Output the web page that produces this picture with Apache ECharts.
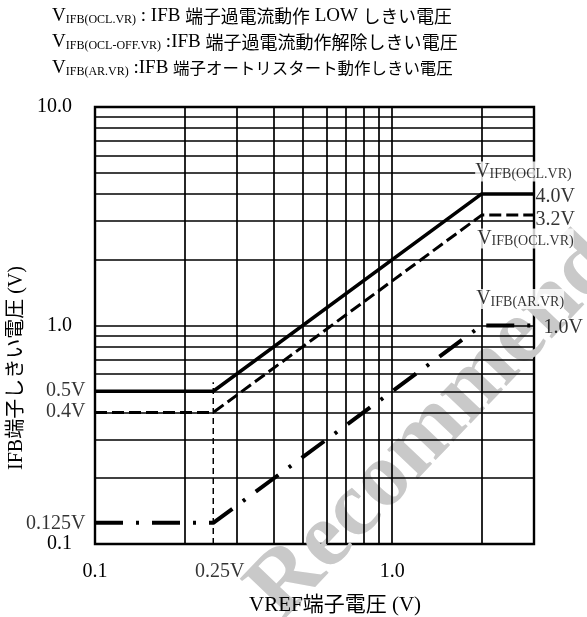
<!DOCTYPE html>
<html>
<head>
<meta charset="utf-8">
<script src="https://cdn.jsdelivr.net/npm/echarts@6/dist/echarts.min.js"></script>
<style>
  html, body { margin: 0; padding: 0; background: #fff; }
  #chart { width: 587px; height: 617px; }
</style>
</head>
<body>
<div id="chart"></div>
<script>
// VREF pin voltage at the segment knots (V)
const vrefKnots = [0.1, 0.25, 2.0, 3.0];
// IFB threshold voltages at those knots (V)
const oclLow = [0.5, 0.5, 4.0, 4.0];          // V_IFB(OCL.VR)
const oclOff = [0.4, 0.4, 3.2, 3.2];          // V_IFB(OCL-OFF.VR)
const autoRestart = [0.125, 0.125, 1.0, 1.0]; // V_IFB(AR.VR)

// Log grid lines
const xGridLines = [0.2, 0.3, 0.4, 0.5, 0.6, 0.7, 0.8, 0.9, 1.0, 2.0];
const yGridLines = [0.2, 0.3, 0.4, 0.5, 0.6, 0.7, 0.8, 0.9, 1.0, 2, 3, 4, 5, 6, 7, 8, 9];

// Tick labels
const xTickLabels = { '0.1': '0.1', '1': '1.0' };
const yTickLabels = { '0.1': '0.1', '1': '1.0', '10': '10.0' };
const refVoltage = 0.25;
const refVoltageLabel = '0.25V';
const refGuideTop = 0.55;
const leftLevelLabels = ['0.5V', '0.4V', '0.125V'];
const rightLevelLabels = ['4.0V', '3.2V', '1.0V'];
const curveSubscripts = ['IFB(OCL.VR)', 'IFB(OCL.VR)', 'IFB(AR.VR)'];

const SERIF = "'Liberation Serif', serif";
const FONT = "'Liberation Serif', 'Noto Sans CJK JP', serif";
const JP = "'Noto Sans CJK JP', sans-serif";
const zip = (xs, ys) => xs.map((x, i) => [x, ys[i]]);
const pickLabel = (table) => (v) => {
  for (const k in table) {
    if (Math.abs(Math.log10(v) - Math.log10(+k)) < 1e-6) return table[k];
  }
  return '';
};

// text measuring helper (used to fit the description lines to a set width)
const measureCtx = document.createElement('canvas').getContext('2d');
const textWidth = (txt, size, family) => {
  measureCtx.font = size + 'px ' + family;
  return measureCtx.measureText(txt).width;
};

const chart = echarts.init(document.getElementById('chart'), null, { renderer: 'canvas' });

const subRich = (big, small, subLH, jp) => ({
  v: { fontSize: big, lineHeight: big, fontFamily: SERIF, color: '#000' },
  s: { fontSize: small, lineHeight: subLH, verticalAlign: 'bottom', fontFamily: SERIF, color: '#000' },
  t: { fontSize: big, lineHeight: big, fontFamily: SERIF, color: '#000' },
  j: { fontSize: jp || big, lineHeight: big, fontFamily: JP, color: '#000' }
});

// labels riding on the curves / axis positions
const knot = 2; // index of the upper knee
const curveLevels = [oclLow[knot], oclOff[knot], autoRestart[knot]];
const curveNameOffsets = [[-6, -32], [-4, 14], [-5, -36]];
const rightOffsets = [[2, 3], [2, 5.5], [10, 2.5]];
const leftLevels = [oclLow[0], oclOff[0], autoRestart[0]];
const leftOffsets = [[-9, 0], [-9, 0], [-9, 1]];

const labelItems = [];
curveLevels.forEach((lv, i) => {
  labelItems.push({
    value: [vrefKnots[knot], lv],
    label: {
      show: true, position: curveNameOffsets[i], align: 'left', verticalAlign: 'top',
      formatter: '{v|V}{s|' + curveSubscripts[i] + '}',
      backgroundColor: '#fff',
      rich: subRich(20, 14, 10)
    }
  });
  labelItems.push({
    value: [vrefKnots[3], lv],
    label: {
      show: true, position: rightOffsets[i], align: 'left', verticalAlign: 'middle',
      formatter: rightLevelLabels[i], fontSize: 20, fontFamily: SERIF, color: '#000'
    }
  });
});
leftLevels.forEach((lv, i) => {
  labelItems.push({
    value: [vrefKnots[0], lv],
    label: {
      show: true, position: leftOffsets[i], align: 'right', verticalAlign: 'middle',
      formatter: leftLevelLabels[i], fontSize: 20, fontFamily: SERIF, color: '#000'
    }
  });
});
labelItems.push({
  value: [refVoltage, 0.1],
  label: {
    show: true, position: [7, 28], align: 'center', verticalAlign: 'middle',
    formatter: refVoltageLabel, fontSize: 20, fontFamily: SERIF, color: '#000'
  }
});

// Description lines above the plot: [subscript, runs of (latin | japanese) text]
const titleLines = [
  { sub: 'IFB(OCL.VR)', runs: [['t', ' : IFB '], ['j', '端子過電流動作'], ['t', ' LOW '], ['j', 'しきい電圧']], y: 16, right: 452 },
  { sub: 'IFB(OCL-OFF.VR)', runs: [['t', ' :IFB '], ['j', '端子過電流動作解除しきい電圧']], y: 42, right: 458 },
  { sub: 'IFB(AR.VR)', runs: [['t', ' :IFB '], ['j', '端子オートリスタート動作しきい電圧']], y: 68, right: 453 }
];
const TITLE_LEFT = 52, TITLE_BIG = 19, TITLE_SUB = 12;
const titleGraphics = titleLines.map(l => {
  let latin = textWidth('V', TITLE_BIG, SERIF) + textWidth(l.sub, TITLE_SUB, SERIF);
  let jp100 = 0;
  l.runs.forEach(([k, s]) => {
    if (k === 't') latin += textWidth(s, TITLE_BIG, SERIF);
    else jp100 += textWidth(s, 100, JP);
  });
  let jpSize = (l.right - TITLE_LEFT - latin) / (jp100 / 100);
  jpSize = Math.max(14, Math.min(20, jpSize));
  return {
    type: 'text', z: 20, silent: true,
    x: TITLE_LEFT, y: l.y,
    style: {
      text: '{v|V}{s|' + l.sub + '}' + l.runs.map(([k, s]) => '{' + k + '|' + s + '}').join(''),
      rich: subRich(TITLE_BIG, TITLE_SUB, 13, jpSize),
      align: 'left', verticalAlign: 'middle'
    }
  };
});

const option = {
  animation: false,
  backgroundColor: '#fff',
  grid: {
    left: 95, top: 107, width: 439, height: 437,
    show: true, borderColor: '#000', borderWidth: 2.4, backgroundColor: 'transparent'
  },
  xAxis: {
    type: 'log', logBase: 10, min: 0.1, max: 3,
    axisLine: { show: false }, axisTick: { show: false }, splitLine: { show: false },
    axisLabel: { formatter: pickLabel(xTickLabels), margin: 18, fontSize: 20, fontFamily: SERIF, color: '#000', showMinLabel: true, showMaxLabel: true }
  },
  yAxis: {
    type: 'log', logBase: 10, min: 0.1, max: 10,
    axisLine: { show: false }, axisTick: { show: false }, splitLine: { show: false },
    axisLabel: { formatter: pickLabel(yTickLabels), margin: 23, fontSize: 20, fontFamily: SERIF, color: '#000', showMinLabel: true, showMaxLabel: true }
  },
  series: [
    {
      name: 'grid', type: 'line', z: 1, symbol: 'none', silent: true,
      data: [[0.1, 0.1]], lineStyle: { opacity: 0 },
      markLine: {
        silent: true, symbol: ['none', 'none'], animation: false,
        label: { show: false },
        lineStyle: { color: '#000', width: 1.7, type: 'solid' },
        emphasis: { disabled: true },
        data: xGridLines.map(v => ({ xAxis: v })).concat(yGridLines.map(v => ({ yAxis: v })))
      }
    },
    {
      name: 'V_IFB(OCL.VR)', type: 'line', z: 10, symbol: 'none', silent: true,
      data: zip(vrefKnots, oclLow),
      lineStyle: { color: '#000', width: 3.5, type: 'solid' }
    },
    {
      name: 'V_IFB(OCL-OFF.VR)', type: 'line', z: 10, symbol: 'none', silent: true,
      data: zip(vrefKnots, oclOff),
      lineStyle: { color: '#000', width: 3, type: [12, 5] }
    },
    {
      name: 'V_IFB(AR.VR)', type: 'line', z: 10, symbol: 'none', silent: true,
      data: zip(vrefKnots, autoRestart),
      lineStyle: { color: '#000', width: 4, type: [28, 13, 3, 13], cap: 'butt' }
    },
    {
      name: 'VREF guide', type: 'line', z: 9, symbol: 'none', silent: true,
      data: [[refVoltage, 0.1], [refVoltage, refGuideTop]],
      lineStyle: { color: '#000', width: 1.5, type: [6, 4] }
    },
    {
      name: 'labels', type: 'scatter', z: 12, silent: true,
      symbol: 'circle', symbolSize: 1,
      itemStyle: { color: 'rgba(0,0,0,0)' },
      data: labelItems
    }
  ],
  graphic: [
    {
      type: 'text', z: 5, silent: true,
      x: 265, y: 605, rotation: 0.81,
      style: {
        text: 'Recommended', fill: '#c9c9c9',
        font: "bold 92px 'Liberation Serif', serif",
        align: 'left', verticalAlign: 'middle'
      }
    },
    ...titleGraphics,
    {
      type: 'text', z: 20, silent: true,
      x: 17, y: 368, rotation: Math.PI / 2,
      style: {
        text: 'IFB端子しきい電圧 (V)', fill: '#000',
        font: "20px " + FONT, align: 'center', verticalAlign: 'middle'
      }
    },
    {
      type: 'text', z: 20, silent: true,
      x: 335, y: 605,
      style: {
        text: 'VREF端子電圧 (V)', fill: '#000',
        font: "21px " + FONT, align: 'center', verticalAlign: 'middle'
      }
    }
  ]
};

chart.setOption(option);
</script>
</body>
</html>
